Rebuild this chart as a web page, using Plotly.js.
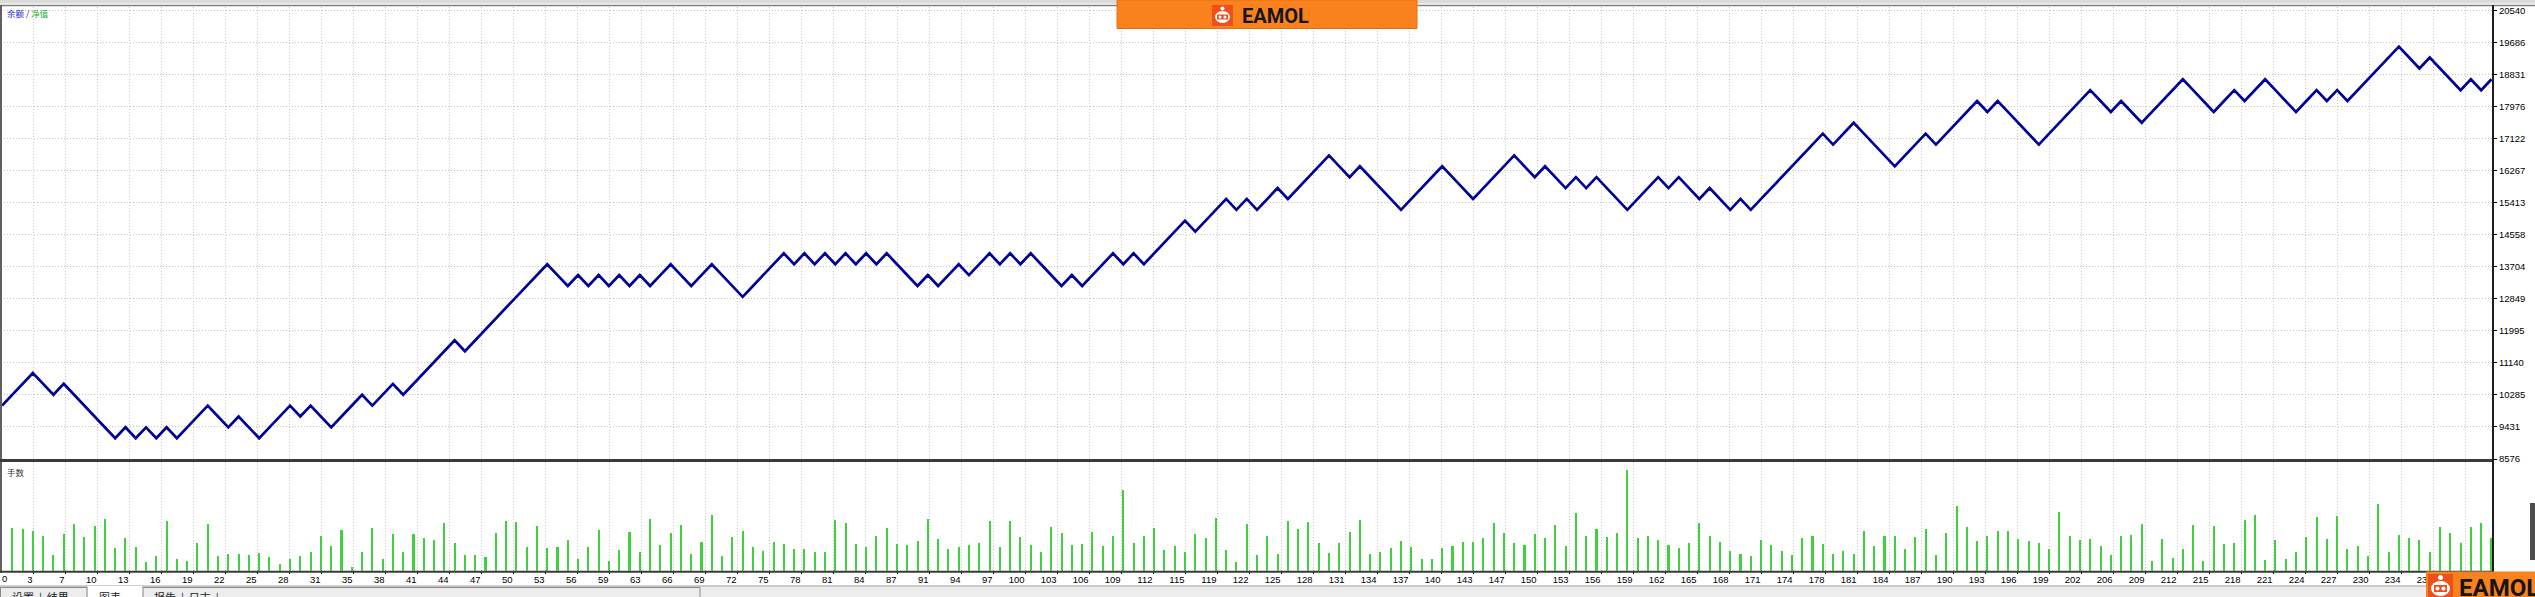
<!DOCTYPE html>
<html>
<head>
<meta charset="utf-8">
<script src="https://cdn.plot.ly/plotly-3.0.1.min.js"></script>
<style>
html,body{margin:0;padding:0;background:#fff;overflow:hidden;}
#chart{width:2535px;height:597px;}
</style>
</head>
<body>
<div id="chart"></div>
<script>
// ---------------- DATA ----------------
// Balance after each trade (trade 0 = initial deposit)
const balance = [
10000,10290,10580,10870,10580,10290,10580,10290,10000,9710,
9420,9130,9420,9130,9420,9130,9420,9130,9420,9710,
10000,9710,9420,9710,9420,9130,9420,9710,10000,9710,
10000,9710,9420,9710,10000,10290,10000,10290,10580,10290,
10580,10870,11160,11450,11740,11450,11740,12030,12320,12610,
12900,13190,13480,13770,13480,13190,13480,13190,13480,13190,
13480,13190,13480,13190,13480,13770,13480,13190,13480,13770,
13480,13190,12900,13190,13480,13770,14060,13770,14060,13770,
14060,13770,14060,13770,14060,13770,14060,13770,13480,13190,
13480,13190,13480,13770,13480,13770,14060,13770,14060,13770,
14060,13770,13480,13190,13480,13190,13480,13770,14060,13770,
14060,13770,14060,14350,14640,14930,14640,14930,15220,15510,
15220,15510,15220,15510,15800,15510,15800,16090,16380,16670,
16380,16090,16380,16090,15800,15510,15220,15510,15800,16090,
16380,16090,15800,15510,15800,16090,16380,16670,16380,16090,
16380,16090,15800,16090,15800,16090,15800,15510,15220,15510,
15800,16090,15800,16090,15800,15510,15800,15510,15220,15510,
15220,15510,15800,16090,16380,16670,16960,17250,16960,17250,
17540,17250,16960,16670,16380,16670,16960,17250,16960,17250,
17540,17830,18120,17830,18120,17830,17540,17250,16960,17250,
17540,17830,18120,18410,18120,17830,18120,17830,17540,17830,
18120,18410,18700,18410,18120,17830,18120,18410,18120,18410,
18700,18410,18120,17830,18120,18410,18120,18410,18120,18410,
18700,18990,19280,19570,19280,18990,19280,18990,18700,18410,
18700,18410,18700
];
// Lot size of each trade (trades 1..242)
const lots = [
0.43,0.42,0.40,0.35,0.16,0.37,0.47,0.34,0.45,0.52,
0.23,0.33,0.24,0.09,0.15,0.50,0.12,0.10,0.28,0.47,
0.15,0.17,0.17,0.16,0.18,0.14,0.07,0.12,0.15,0.19,
0.35,0.25,0.41,0.04,0.19,0.43,0.12,0.37,0.19,0.37,
0.33,0.31,0.48,0.28,0.16,0.16,0.14,0.38,0.50,0.49,
0.24,0.45,0.23,0.24,0.31,0.12,0.24,0.41,0.10,0.21,
0.39,0.19,0.52,0.26,0.38,0.46,0.17,0.29,0.56,0.15,
0.34,0.40,0.24,0.20,0.29,0.27,0.22,0.22,0.19,0.19,
0.51,0.48,0.27,0.24,0.35,0.43,0.27,0.26,0.30,0.52,
0.32,0.22,0.24,0.26,0.28,0.50,0.24,0.50,0.34,0.26,
0.19,0.44,0.38,0.26,0.27,0.39,0.25,0.35,0.81,0.28,
0.35,0.43,0.21,0.25,0.19,0.37,0.33,0.53,0.21,0.09,
0.47,0.16,0.35,0.17,0.50,0.42,0.49,0.28,0.18,0.28,
0.39,0.51,0.17,0.19,0.23,0.30,0.24,0.12,0.12,0.23,
0.25,0.29,0.29,0.33,0.48,0.38,0.28,0.26,0.37,0.33,
0.46,0.25,0.58,0.35,0.42,0.34,0.38,1.01,0.33,0.35,
0.31,0.26,0.23,0.28,0.48,0.35,0.29,0.20,0.17,0.15,
0.31,0.26,0.20,0.16,0.33,0.35,0.27,0.17,0.20,0.17,
0.40,0.25,0.35,0.35,0.22,0.34,0.42,0.16,0.38,0.65,
0.44,0.30,0.35,0.40,0.40,0.32,0.30,0.28,0.22,0.59,
0.35,0.31,0.32,0.25,0.16,0.35,0.36,0.47,0.10,0.32,
0.13,0.22,0.46,0.10,0.45,0.27,0.28,0.51,0.56,0.11,
0.31,0.12,0.19,0.34,0.54,0.32,0.55,0.22,0.25,0.15,
0.67,0.19,0.36,0.33,0.31,0.19,0.44,0.38,0.28,0.44,
0.48,0.33
];
// Trade-number labels on the x axis (one per vertical grid line, first is "0")
const xTickLabels = ['0','3','7','10','13','16','19','22','25','28','31','35','38','41','44','47',
'50','53','56','59','63','66','69','72','75','78','81','84','87','91','94','97','100','103','106',
'109','112','115','119','122','125','128','131','134','137','140','143','147','150','153','156',
'159','162','165','168','171','174','178','181','184','187','190','193','196','199','202','206',
'209','212','215','218','221','224','227','230','234','237','240'];
// Balance labels on the right axis
const yTickLabels = ['8576','9431','10285','11140','11995','12849','13704','14558','15413',
'16267','17122','17976','18831','19686','20540'];
const legendBalance = '余额';
const legendEquity = '净值';
const lotsTitle = '手数';
const tabLabels = ['设置','结果','图表','报告','日志'];
const watermark = 'EAMOL';

// ---------------- LAYOUT HELPERS (pixel geometry) ----------------
const W = 2535, H = 597;
const X = p => p / W;
const Y = p => 1 - p / H;
const PPT = 10.287;            // pixels per trade
const LEFT = 1, RIGHT = 2493;  // plot area edges (px)
const kAt = p => (p - 2.0) / PPT;

const tradeIdx = balance.map((_, i) => i);
const barIdx = lots.map((_, i) => i + 1);

const gridVals = [], gridText = [];
for (let j = 1; j < xTickLabels.length; j++) {
  gridVals.push(kAt(1 + 32 * j));
  gridText.push(xTickLabels[j]);
}
const yVals = yTickLabels.map(Number);

const GRID = '#c4c4c4';
const DASH = '1px,2px';
const tickFont = {family: 'Liberation Sans, Arial, sans-serif', size: 9.5, color: '#000'};

const traces = [
  {
    type: 'bar', x: barIdx, y: lots, xaxis: 'x', yaxis: 'y2',
    width: 0.2, marker: {color: '#3fcf3f', line: {width: 0}},
    hoverinfo: 'skip'
  },
  {
    type: 'scatter', mode: 'lines', x: tradeIdx, y: balance, xaxis: 'x2', yaxis: 'y',
    line: {color: '#000098', width: 2.7}, hoverinfo: 'skip'
  }
];

const xr = [kAt(LEFT), kAt(RIGHT)];
const xdom = [X(LEFT), X(RIGHT)];

const layout = {
  width: W, height: H,
  margin: {l: 0, r: 0, t: 0, b: 0, pad: 0},
  paper_bgcolor: '#ffffff', plot_bgcolor: '#ffffff',
  showlegend: false, bargap: 0,
  xaxis: {
    domain: xdom, range: xr, anchor: 'y2',
    tickmode: 'array', tickvals: gridVals, ticktext: gridText,
    ticklabelposition: 'outside left',
    showgrid: true, gridcolor: GRID, griddash: DASH, gridwidth: 1,
    zeroline: false, showline: false,
    ticks: 'outside', ticklen: 2, tickcolor: '#000', tickwidth: 1,
    tickfont: tickFont, fixedrange: true
  },
  xaxis2: {
    domain: xdom, range: xr, anchor: 'y', matches: 'x',
    tickmode: 'array', tickvals: gridVals,
    showticklabels: false, ticks: '',
    showgrid: true, gridcolor: GRID, griddash: DASH, gridwidth: 1,
    zeroline: false, showline: false, fixedrange: true
  },
  yaxis: {
    domain: [Y(460), Y(7)], range: [8549.3, 20627.7], anchor: 'x2', side: 'right',
    tickmode: 'array', tickvals: yVals, ticktext: yTickLabels,
    showgrid: true, gridcolor: GRID, griddash: DASH, gridwidth: 1,
    zeroline: false, showline: false,
    ticks: 'outside', ticklen: 3, tickcolor: '#000',
    tickfont: tickFont, fixedrange: true
  },
  yaxis2: {
    domain: [Y(570.7), Y(462)], range: [0, 1.087], anchor: 'x', side: 'right',
    showticklabels: false, ticks: '', showgrid: false,
    zeroline: false, showline: false, fixedrange: true
  },
  shapes: [
    // top window strip and frame
    {type:'rect', xref:'paper', yref:'paper', x0:0, x1:1, y0:Y(0), y1:Y(3.5), fillcolor:'#dadada', line:{width:0}},
    {type:'line', xref:'paper', yref:'paper', x0:0, x1:1, y0:Y(5.5), y1:Y(5.5), line:{color:'#808080', width:1.5}},
    {type:'line', xref:'paper', yref:'paper', x0:X(1), x1:X(1), y0:Y(5), y1:Y(573), line:{color:'#606060', width:2}},
    {type:'line', xref:'paper', yref:'paper', x0:0, x1:X(RIGHT), y0:Y(460.5), y1:Y(460.5), line:{color:'#3a3a3a', width:3}},
    {type:'line', xref:'paper', yref:'paper', x0:0, x1:X(RIGHT), y0:Y(571.8), y1:Y(571.8), line:{color:'#3a3a3a', width:2}},
    {type:'line', xref:'paper', yref:'paper', x0:X(RIGHT), x1:X(RIGHT), y0:Y(5), y1:Y(573), line:{color:'#1e1e1e', width:2}},
    // right side small scroll button
    {type:'rect', xref:'paper', yref:'paper', x0:X(2530), x1:X(2536), y0:Y(560), y1:Y(503), fillcolor:'#4c4c4c', line:{width:0}},
    // bottom tab strip
    {type:'rect', xref:'paper', yref:'paper', x0:0, x1:1, y0:Y(597), y1:Y(586), fillcolor:'#ededed', line:{width:0}},
    {type:'line', xref:'paper', yref:'paper', x0:0, x1:1, y0:Y(586), y1:Y(586), line:{color:'#a0a0a0', width:1}},
    {type:'rect', xref:'paper', yref:'paper', x0:X(0.5), x1:X(87), y0:Y(598), y1:Y(587.5), fillcolor:'rgba(0,0,0,0)', line:{color:'#8a8a8a', width:1}},
    {type:'rect', xref:'paper', yref:'paper', x0:X(88), x1:X(142), y0:Y(598), y1:Y(586), fillcolor:'#ffffff', line:{width:0}},
    {type:'rect', xref:'paper', yref:'paper', x0:X(143), x1:X(700), y0:Y(598), y1:Y(587.5), fillcolor:'rgba(0,0,0,0)', line:{color:'#8a8a8a', width:1}},
    // watermark (top)
    {type:'rect', xref:'paper', yref:'paper', x0:X(1117), x1:X(1417), y0:Y(28.5), y1:Y(0), fillcolor:'#f9821e', line:{color:'#e86e10', width:1}},
    {type:'rect', xref:'paper', yref:'paper', x0:X(1212), x1:X(1233), y0:Y(26), y1:Y(5), fillcolor:'#ef4f1b', line:{width:0}},
    {type:'circle', xref:'paper', yref:'paper', x0:X(1215), x1:X(1230), y0:Y(23), y1:Y(11), fillcolor:'#ffffff', line:{width:0}},
    {type:'circle', xref:'paper', yref:'paper', x0:X(1220.5), x1:X(1224.5), y0:Y(10.5), y1:Y(6.5), fillcolor:'#ffffff', line:{width:0}},
    {type:'rect', xref:'paper', yref:'paper', x0:X(1217), x1:X(1228), y0:Y(19.5), y1:Y(14.5), fillcolor:'#ef4f1b', line:{width:0}},
    {type:'circle', xref:'paper', yref:'paper', x0:X(1218.5), x1:X(1221.5), y0:Y(18.5), y1:Y(15.5), fillcolor:'#ffffff', line:{width:0}},
    {type:'circle', xref:'paper', yref:'paper', x0:X(1223.5), x1:X(1226.5), y0:Y(18.5), y1:Y(15.5), fillcolor:'#ffffff', line:{width:0}},
    // watermark (bottom right)
    {type:'rect', xref:'paper', yref:'paper', x0:X(2426), x1:X(2536), y0:Y(598), y1:Y(571.5), fillcolor:'#f9821e', line:{width:0}},
    {type:'rect', xref:'paper', yref:'paper', x0:X(2428), x1:X(2453), y0:Y(599), y1:Y(574), fillcolor:'#ef4f1b', line:{width:0}},
    {type:'circle', xref:'paper', yref:'paper', x0:X(2431), x1:X(2450), y0:Y(596), y1:Y(581), fillcolor:'#ffffff', line:{width:0}},
    {type:'circle', xref:'paper', yref:'paper', x0:X(2438), x1:X(2443), y0:Y(580), y1:Y(575), fillcolor:'#ffffff', line:{width:0}},
    {type:'rect', xref:'paper', yref:'paper', x0:X(2434), x1:X(2447), y0:Y(592), y1:Y(585), fillcolor:'#ef4f1b', line:{width:0}},
    {type:'circle', xref:'paper', yref:'paper', x0:X(2435.5), x1:X(2439.5), y0:Y(590.5), y1:Y(586.5), fillcolor:'#ffffff', line:{width:0}},
    {type:'circle', xref:'paper', yref:'paper', x0:X(2441.5), x1:X(2445.5), y0:Y(590.5), y1:Y(586.5), fillcolor:'#ffffff', line:{width:0}}
  ],
  annotations: [
    {xref:'paper', yref:'paper', x:X(5), y:Y(13), xanchor:'left', yanchor:'middle', showarrow:false,
     text:'<span style="color:#2a2ad2">' + legendBalance + '</span><span style="color:#333"> / </span><span style="color:#1fb41f">' + legendEquity + '</span>',
     font:{family:'Noto Sans CJK SC, sans-serif', size:8.5}},
    {xref:'paper', yref:'paper', x:X(5), y:Y(472), xanchor:'left', yanchor:'middle', showarrow:false,
     text: lotsTitle, font:{family:'Noto Sans CJK SC, sans-serif', size:8.5, color:'#333'}},
    {xref:'paper', yref:'paper', x:X(4), y:Y(578.5), xanchor:'center', yanchor:'middle', showarrow:false,
     text: xTickLabels[0], font: tickFont},
    {xref:'paper', yref:'paper', x:X(1240), y:Y(15.5), xanchor:'left', yanchor:'middle', showarrow:false,
     text:'<b>' + watermark + '</b>', font:{family:'Roboto, sans-serif', size:20, color:'#151515'}},
    {xref:'paper', yref:'paper', x:X(2457), y:Y(588), xanchor:'left', yanchor:'middle', showarrow:false,
     text:'<b>' + watermark + '</b>', font:{family:'Roboto, sans-serif', size:24, color:'#151515'}},
    {xref:'paper', yref:'paper', x:X(10), y:Y(597), xanchor:'left', yanchor:'middle', showarrow:false,
     text: tabLabels[0] + '  |  ' + tabLabels[1], font:{family:'Noto Sans CJK SC, sans-serif', size:11, color:'#222'}},
    {xref:'paper', yref:'paper', x:X(97), y:Y(597), xanchor:'left', yanchor:'middle', showarrow:false,
     text: tabLabels[2], font:{family:'Noto Sans CJK SC, sans-serif', size:11, color:'#222'}},
    {xref:'paper', yref:'paper', x:X(152), y:Y(597), xanchor:'left', yanchor:'middle', showarrow:false,
     text: tabLabels[3] + '  |  ' + tabLabels[4] + '  |', font:{family:'Noto Sans CJK SC, sans-serif', size:11, color:'#222'}}
  ]
};

Plotly.newPlot('chart', traces, layout, {displayModeBar: false, staticPlot: true});
</script>
</body>
</html>
